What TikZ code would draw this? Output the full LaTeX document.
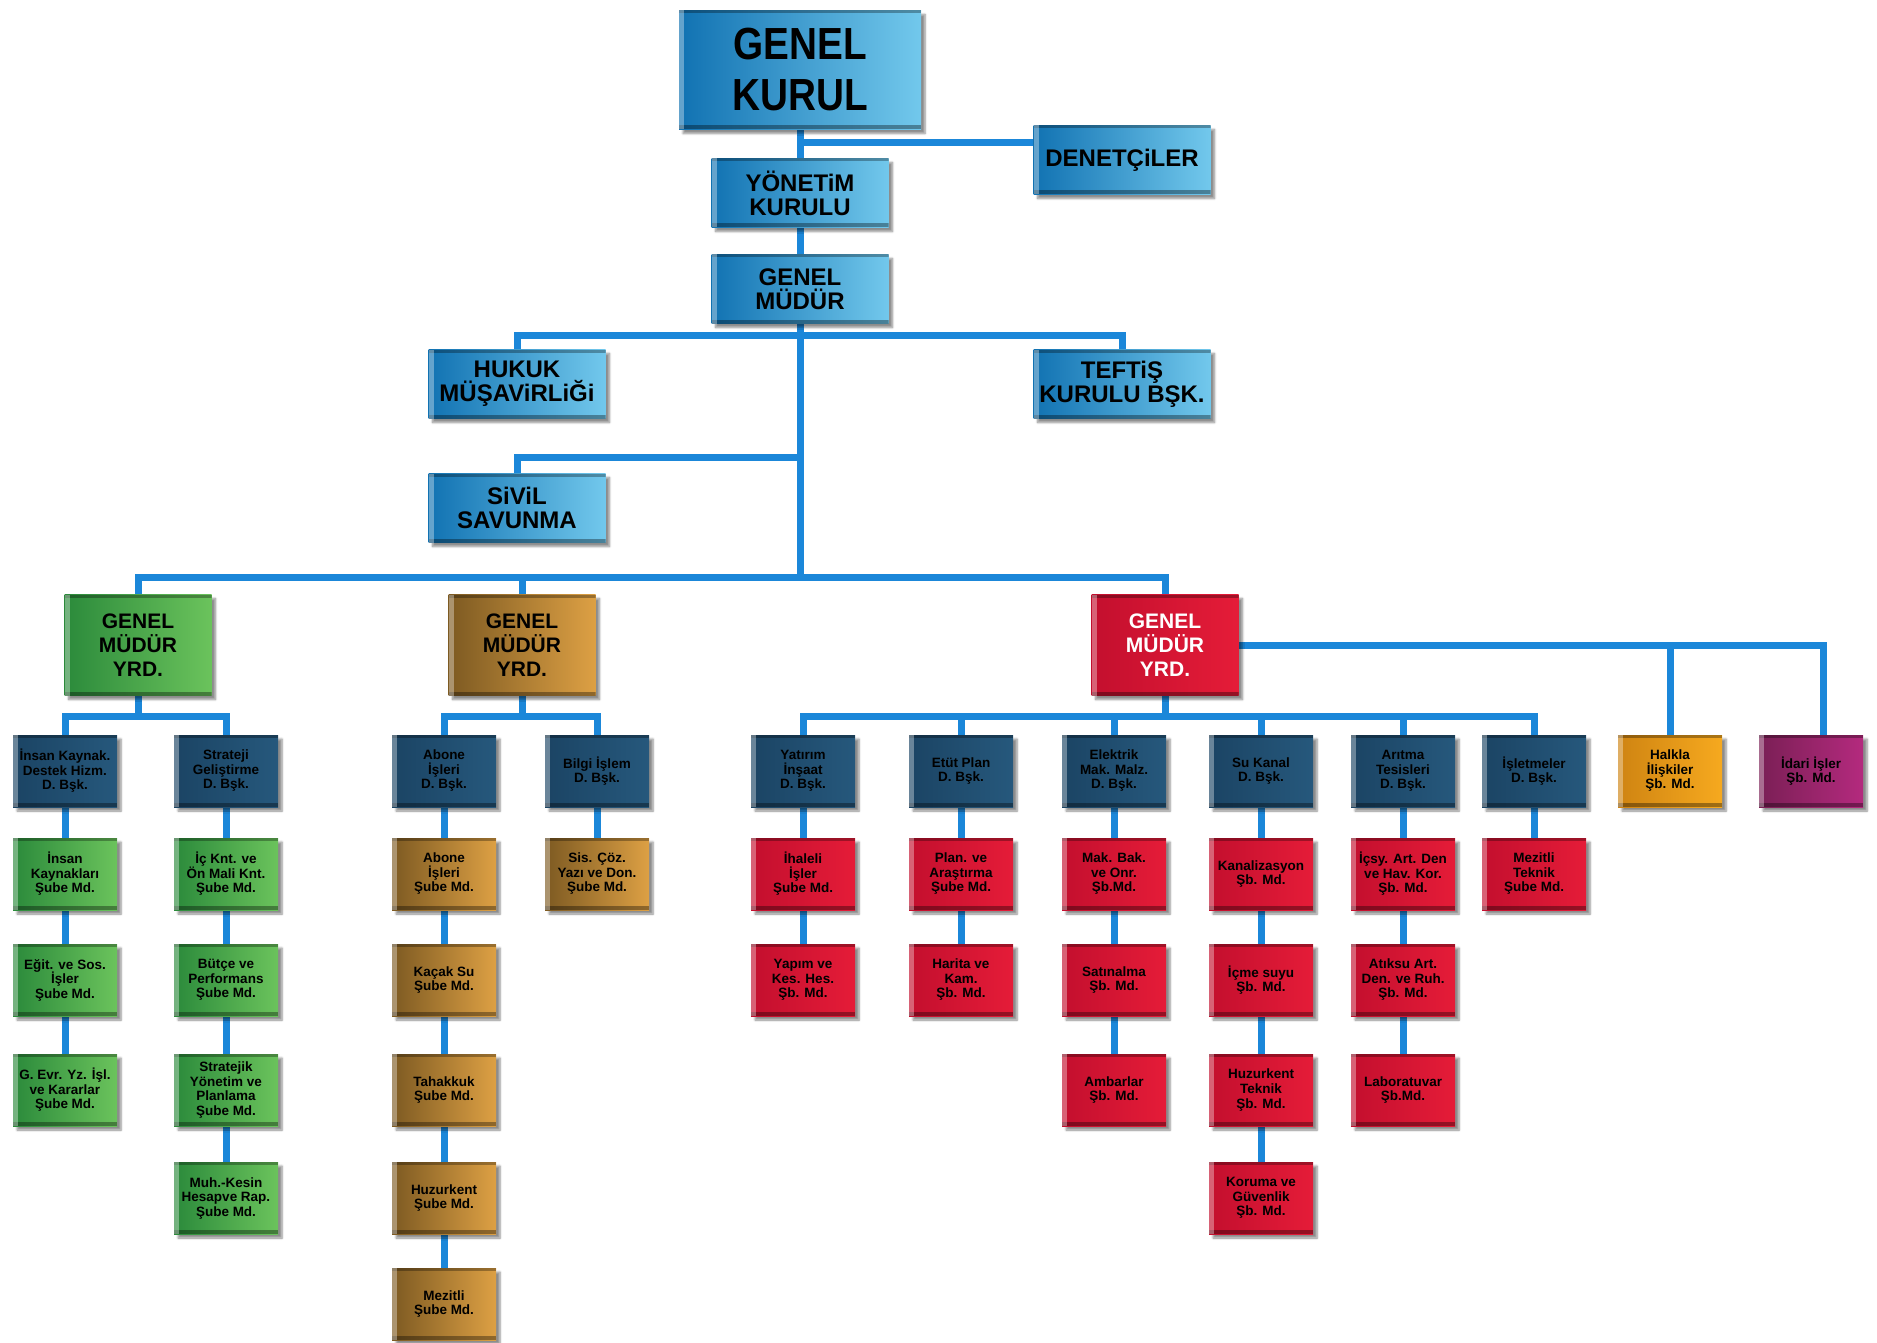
\documentclass[tikz,border=0pt]{standalone}
\usepackage{fontspec}
\setmainfont{Liberation Sans}
\newfontfamily\narrowfont{Liberation Sans}[FakeStretch=0.86]
\usetikzlibrary{shadows.blur,backgrounds}
\definecolor{orgline}{HTML}{1B87D9}
\definecolor{orgblue}{HTML}{1172B2}
\definecolor{orgsky}{HTML}{72C8EC}
\definecolor{orgnavy}{HTML}{1B4464}
\definecolor{orgnavyl}{HTML}{26587C}
\definecolor{orggreen}{HTML}{2B8A3B}
\definecolor{orggreenl}{HTML}{6BC35C}
\definecolor{orgbrown}{HTML}{7D5A22}
\definecolor{orgbrownl}{HTML}{DDA044}
\definecolor{orgred}{HTML}{C30F2E}
\definecolor{orgredl}{HTML}{E51C38}
\definecolor{orgorange}{HTML}{CF8412}
\definecolor{orgorangel}{HTML}{F6A91F}
\definecolor{orgplum}{HTML}{7A1F55}
\definecolor{orgpluml}{HTML}{B42A7E}

\begin{document}
\begin{tikzpicture}[
    x=1pt, y=-1pt,
    bevel/.style={path picture={
        \fill[black, opacity=.3] (path picture bounding box.north west) rectangle ([yshift=-3pt]path picture bounding box.north east);
        \fill[black, opacity=.35] ([yshift=4pt]path picture bounding box.south west) rectangle (path picture bounding box.south east);
        \fill[white, opacity=.35] (path picture bounding box.north west) rectangle ([xshift=5pt]path picture bounding box.south west);
    }},
    box/.style={rectangle, minimum width=104, minimum height=72, inner sep=0pt, align=center,
        text=black, font=\fontsize{13.5}{14.5}\selectfont\bfseries,
        blur shadow={shadow xshift=4pt, shadow yshift=-4pt, shadow blur steps=6, shadow opacity=45}, bevel},
    nav/.style={box, left color=orgnavy, right color=orgnavyl},
    grn/.style={box, left color=orggreen, right color=orggreenl},
    brn/.style={box, left color=orgbrown, right color=orgbrownl},
    rd/.style={box, left color=orgred, right color=orgredl},
    ust/.style={box, minimum width=177, minimum height=69, left color=orgblue, right color=orgsky,
        font=\fontsize{24}{24}\selectfont\bfseries},
    genel/.style={ust, minimum width=242, minimum height=119, font=\narrowfont\fontsize{45}{51}\selectfont\bfseries},
    yrd/.style={box, minimum width=147, minimum height=101, font=\fontsize{21}{24}\selectfont\bfseries},
    link/.style={draw=orgline, line width=7pt}
]
    \useasboundingbox (0,0) rectangle (1877,1343);

    % ust yonetim
    \node[genel] (gk) at (800,70) {GENEL\\KURUL};
    \node[ust] (denet) at (1122,160) {DENETÇiLER};
    \node[ust] (yon) at (800,193) {YÖNETiM\\KURULU};
    \node[ust] (gm) at (800,289) {GENEL\\MÜDÜR};
    \node[ust] (hukuk) at (517,384) {HUKUK\\MÜŞAViRLiĞi};
    \node[ust] (teftis) at (1122,384) {TEFTiŞ\\KURULU BŞK.};
    \node[ust] (sivil) at (517,508) {SiViL\\SAVUNMA};

    % genel mudur yardimcilari
    \node[yrd, left color=orggreen, right color=orggreenl] (gmy1) at (138,645) {GENEL\\MÜDÜR\\YRD.};
    \node[yrd, left color=orgbrown, right color=orgbrownl] (gmy2) at (522,645) {GENEL\\MÜDÜR\\YRD.};
    \node[yrd, left color=orgred, right color=orgredl, text=white] (gmy3) at (1165,645) {GENEL\\MÜDÜR\\YRD.};

    % daire baskanliklari
    \node[nav] (ik) at (65,771) {İnsan Kaynak.\\Destek Hizm.\\D. Bşk.};
    \node[nav] (sg) at (226,771) {Strateji\\Geliştirme\\D. Bşk.};
    \node[nav] (ab) at (444,771) {Abone\\İşleri\\D. Bşk.};
    \node[nav] (bi) at (597,771) {Bilgi İşlem\\D. Bşk.};
    \node[nav] (yi) at (803,771) {Yatırım\\İnşaat\\D. Bşk.};
    \node[nav] (ep) at (961,771) {Etüt Plan\\D. Bşk.};
    \node[nav] (em) at (1114,771) {Elektrik\\Mak. Malz.\\D. Bşk.};
    \node[nav] (sk) at (1261,771) {Su Kanal\\D. Bşk.};
    \node[nav] (at) at (1403,771) {Arıtma\\Tesisleri\\D. Bşk.};
    \node[nav] (is) at (1534,771) {İşletmeler\\D. Bşk.};
    \node[box, left color=orgorange, right color=orgorangel] (hi) at (1670,771) {Halkla\\İlişkiler\\Şb. Md.};
    \node[box, left color=orgplum, right color=orgpluml] (id) at (1811,771) {İdari İşler\\Şb. Md.};

    % sube mudurlukleri
    \node[grn] (ik1) at (65,874) {İnsan\\Kaynakları\\Şube Md.};
    \node[grn] (ik2) at (65,980) {Eğit. ve Sos.\\İşler\\Şube Md.};
    \node[grn] (ik3) at (65,1090) {G. Evr. Yz. İşl.\\ve Kararlar\\Şube Md.};
    \node[grn] (sg1) at (226,874) {İç Knt. ve\\Ön Mali Knt.\\Şube Md.};
    \node[grn] (sg2) at (226,980) {Bütçe ve\\Performans\\Şube Md.};
    \node[grn] (sg3) at (226,1090) {Stratejik\\Yönetim ve\\Planlama\\Şube Md.};
    \node[grn] (sg4) at (226,1198) {Muh.-Kesin\\Hesapve Rap.\\Şube Md.};

    \node[brn] (ab1) at (444,874) {Abone\\İşleri\\Şube Md.};
    \node[brn] (ab2) at (444,980) {Kaçak Su\\Şube Md.};
    \node[brn] (ab3) at (444,1090) {Tahakkuk\\Şube Md.};
    \node[brn] (ab4) at (444,1198) {Huzurkent\\Şube Md.};
    \node[brn] (ab5) at (444,1304) {Mezitli\\Şube Md.};
    \node[brn] (bi1) at (597,874) {Sis. Çöz.\\Yazı ve Don.\\Şube Md.};

    \node[rd] (yi1) at (803,874) {İhaleli\\İşler\\Şube Md.};
    \node[rd] (yi2) at (803,980) {Yapım ve\\Kes. Hes.\\Şb. Md.};
    \node[rd] (ep1) at (961,874) {Plan. ve\\Araştırma\\Şube Md.};
    \node[rd] (ep2) at (961,980) {Harita ve\\Kam.\\Şb. Md.};
    \node[rd] (em1) at (1114,874) {Mak. Bak.\\ve Onr.\\Şb.Md.};
    \node[rd] (em2) at (1114,980) {Satınalma\\Şb. Md.};
    \node[rd] (em3) at (1114,1090) {Ambarlar\\Şb. Md.};
    \node[rd] (sk1) at (1261,874) {Kanalizasyon\\Şb. Md.};
    \node[rd] (sk2) at (1261,980) {İçme suyu\\Şb. Md.};
    \node[rd] (sk3) at (1261,1090) {Huzurkent\\Teknik\\Şb. Md.};
    \node[rd] (sk4) at (1261,1198) {Koruma ve\\Güvenlik\\Şb. Md.};
    \node[rd] (at1) at (1403,874) {İçsy. Art. Den\\ve Hav. Kor.\\Şb. Md.};
    \node[rd] (at2) at (1403,980) {Atıksu Art.\\Den. ve Ruh.\\Şb. Md.};
    \node[rd] (at3) at (1403,1090) {Laboratuvar\\Şb.Md.};
    \node[rd] (is1) at (1534,874) {Mezitli\\Teknik\\Şube Md.};

    % baglantilar
    \begin{scope}[on background layer]
        \coordinate (j1) at (800,335);
        \coordinate (j2) at (800,457);
        \coordinate (j3) at (800,577);
        \coordinate (k1) at (138,716);
        \coordinate (k2) at (522,716);
        \coordinate (k3) at (1165,716);

        \draw[link] (gk) -- (yon) -- (gm);
        \draw[link] (gk.south) |- ([yshift=17pt]denet.west);
        \draw[link] (gm) -- (j3);
        \draw[link] (hukuk) |- (j1) -| (teftis);
        \draw[link] (sivil) |- (j2);
        \draw[link] (gmy1) |- (j3) -| (gmy3);
        \draw[link] (gmy2) -- (gmy2 |- j3);

        \draw[link] (gmy1) -- (k1);
        \draw[link] (ik) |- (k1) -| (sg);
        \draw[link] (gmy2) -- (k2);
        \draw[link] (ab) |- (k2) -| (bi);
        \draw[link] (gmy3) -- (k3);
        \draw[link] (yi) |- (k3) -| (is);
        \draw[link] (ep) -- (ep |- k3);
        \draw[link] (em) -- (em |- k3);
        \draw[link] (sk) -- (sk |- k3);
        \draw[link] (at) -- (at |- k3);
        \draw[link] (gmy3.east) -| ([xshift=12pt]id.north);
        \draw[link] (hi) -- (hi |- gmy3.east);

        \draw[link] (ik) -- (ik1) -- (ik2) -- (ik3);
        \draw[link] (sg) -- (sg1) -- (sg2) -- (sg3) -- (sg4);
        \draw[link] (ab) -- (ab1) -- (ab2) -- (ab3) -- (ab4) -- (ab5);
        \draw[link] (bi) -- (bi1);
        \draw[link] (yi) -- (yi1) -- (yi2);
        \draw[link] (ep) -- (ep1) -- (ep2);
        \draw[link] (em) -- (em1) -- (em2) -- (em3);
        \draw[link] (sk) -- (sk1) -- (sk2) -- (sk3) -- (sk4);
        \draw[link] (at) -- (at1) -- (at2) -- (at3);
        \draw[link] (is) -- (is1);
    \end{scope}
\end{tikzpicture}
\end{document}
